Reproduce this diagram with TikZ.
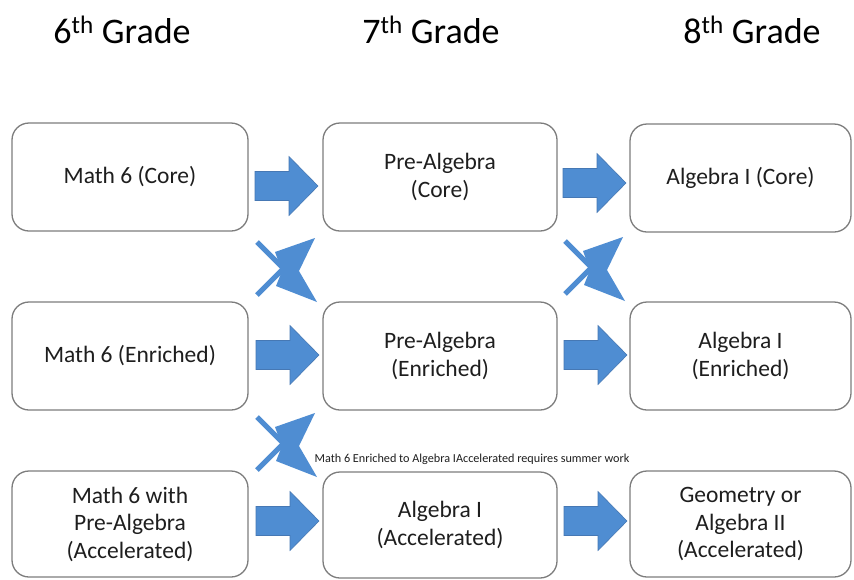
\documentclass[tikz,border=0pt]{standalone}
\usepackage{fontspec}
\setmainfont{Carlito}
\definecolor{boxline}{RGB}{125,125,125}
\definecolor{arrowblue}{RGB}{79,141,210}
\definecolor{arrowedge}{RGB}{70,120,180}
\definecolor{txt}{RGB}{30,30,30}
\begin{document}
\begin{tikzpicture}[x=1pt,y=-1pt,
  box/.style={draw=boxline, line width=1.3pt, rounded corners=17pt, fill=white,
    align=center, font=\fontsize{23.5}{27.5}\selectfont, text=txt, inner sep=0pt},
  c1/.style={minimum width=236pt},
  c2/.style={minimum width=234pt},
  c3/.style={minimum width=221pt},
  r12/.style={minimum height=108pt},
  r3/.style={minimum height=106pt},
  header/.style={anchor=base, font=\fontsize{36}{40}\selectfont, text=black},
  blockarrow/.pic={\draw[fill=arrowblue, draw=arrowedge, line width=0.6pt, line join=miter]
     (0,-14.5) -- (34,-14.5) -- (34,-29.5) -- (63,0) -- (34,29.5) -- (34,14.5) -- (0,14.5) -- cycle;},
  crossarrow/.pic={
     \draw[arrowblue, line width=5pt] (0,4) -- (32,36);
     \draw[arrowblue, line width=5pt] (0,57) -- (32,25);
     \fill[arrowblue] (58,0) -- (42,33) -- (60,64) -- (19,48) -- (25,33) -- (18,14) -- cycle;}
]
\useasboundingbox (0,0) rectangle (854,579);
\fill[white] (0,0) rectangle (854,579);

% headers
\node[header] (h6) at (122,43) {6\textsuperscript{th} Grade};
\node[header] (h7) at (431,43) {7\textsuperscript{th} Grade};
\node[header] (h8) at (752,43) {8\textsuperscript{th} Grade};

% boxes
\node[box,c1,r12] (m6c) at (130,177) {Math 6 (Core)};
\node[box,c2,r12] (pac) at (440,177) {Pre-Algebra\\(Core)};
\node[box,c3,r12] (a1c) at (740.5,178) {Algebra I (Core)};

\node[box,c1,r12] (m6e) at (130,356) {Math 6 (Enriched)};
\node[box,c2,r12] (pae) at (440,356) {Pre-Algebra\\(Enriched)};
\node[box,c3,r12] (a1e) at (740.5,356) {Algebra I\\(Enriched)};

\node[box,c1,r3] (m6a) at (130,524) {Math 6 with\\Pre-Algebra\\(Accelerated)};
\node[box,c2,r3] (a1a) at (440,525) {Algebra I\\(Accelerated)};
\node[box,c3,r3] (geo) at (740.5,524) {Geometry or\\Algebra II\\(Accelerated)};

% block arrows
\pic (ba1) at (255,186) {blockarrow};
\pic (ba2) at (563,183) {blockarrow};
\pic (ba3) at (256,355) {blockarrow};
\pic (ba4) at (564,355) {blockarrow};
\pic (ba5) at (256,521) {blockarrow};
\pic (ba6) at (564,521) {blockarrow};

% crossing arrows
\pic (cx1) at (257,238) {crossarrow};
\pic (cx2) at (565,237) {crossarrow};
\begin{scope}[shift={(257,413)}, yscale=0.94]
\pic (cx3) at (0,0) {crossarrow};
\end{scope}

% note
\node[font=\fontsize{12.2}{14}\selectfont, text=txt] (note) at (472,459)
  {Math 6 Enriched to Algebra IAccelerated requires summer work};
\end{tikzpicture}
\end{document}
